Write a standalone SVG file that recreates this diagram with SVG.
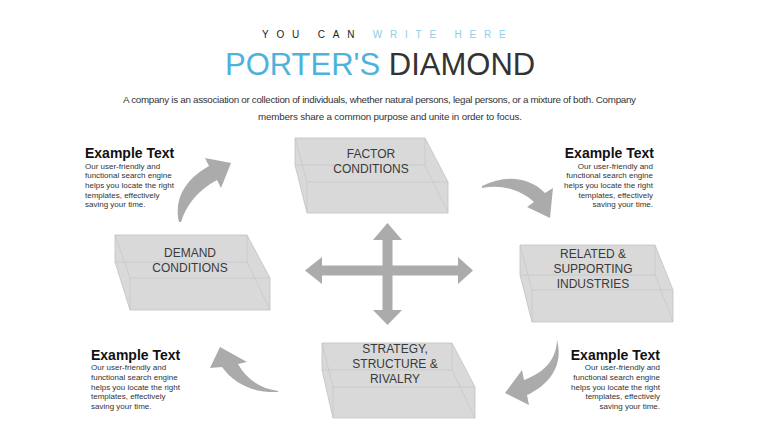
<svg xmlns="http://www.w3.org/2000/svg" width="760" height="428" viewBox="0 0 760 428">
<style>
.box{fill:#d9d9d9;stroke:#c2c2c2;stroke-width:0.8}
.edge{fill:none;stroke:#c6c6c6;stroke-width:0.7}
.lbl{font-family:"Liberation Sans",Arial,sans-serif;font-size:12px;fill:#3a3a3a;text-anchor:middle}
.arw{fill:#ababab}
.hd{font-family:"Liberation Sans",Arial,sans-serif;font-size:14px;font-weight:bold;fill:#111}
.bd{font-family:"Liberation Sans",Arial,sans-serif;font-size:8px;fill:#333}
.r{text-anchor:end}
</style>
<rect width="760" height="428" fill="#ffffff"/>
<g id="header">
<text x="262" y="38" font-family="Liberation Sans,Arial,sans-serif" font-size="10" letter-spacing="7.8" fill="#222"><tspan>YOU CAN </tspan><tspan fill="#8ccfe9">WRITE HERE</tspan></text>
<text x="225" y="75" font-family="Liberation Sans,Arial,sans-serif" font-size="31" fill="#333"><tspan fill="#4fb2dc">PORTER'S</tspan> DIAMOND</text>
<text x="123" y="103" font-family="Liberation Sans,Arial,sans-serif" font-size="9.8" fill="#333" textLength="513" lengthAdjust="spacing">A company is an association or collection of individuals, whether natural persons, legal persons, or a mixture of both. Company</text>
<text x="258" y="119.5" font-family="Liberation Sans,Arial,sans-serif" font-size="9.8" fill="#333" textLength="264" lengthAdjust="spacing">members share a common purpose and unite in order to focus.</text>
</g>
<g id="factor">
<path class="box" d="M295 138 H425 L448 182 V213 H307 L295 165 Z"/>
<path class="edge" d="M295 165 H425 V138 M425 165 L448 213 M307 182 H448 M307 182 V213 M295 138 L307 182"/>
<text class="lbl" x="371" y="158">FACTOR</text>
<text class="lbl" x="371" y="173">CONDITIONS</text>
</g>
<g id="demand">
<path class="box" d="M115 235 H247 L270 278 V310 H130 L115 262 Z"/>
<path class="edge" d="M115 262 H247 V235 M247 262 L270 310 M130 278 H270 M130 278 V310 M115 235 L130 278"/>
<text class="lbl" x="190" y="257">DEMAND</text>
<text class="lbl" x="190" y="272">CONDITIONS</text>
</g>
<g id="related">
<path class="box" d="M520 245 H655 L673 290 V322 H532 L520 275 Z"/>
<path class="edge" d="M520 275 H655 V245 M655 275 L673 322 M532 290 H673 M532 290 V322 M520 245 L532 290"/>
<text class="lbl" x="593" y="258">RELATED &amp;</text>
<text class="lbl" x="593" y="273">SUPPORTING</text>
<text class="lbl" x="593" y="288">INDUSTRIES</text>
</g>
<g id="strategy">
<path class="box" d="M322 343 H452 L475 387 V418 H333 L322 370 Z"/>
<path class="edge" d="M322 370 H452 V343 M452 370 L475 418 M333 387 H475 M333 387 V418 M322 343 L333 387"/>
<text class="lbl" x="395" y="353">STRATEGY,</text>
<text class="lbl" x="395" y="368">STRUCTURE &amp;</text>
<text class="lbl" x="395" y="383">RIVALRY</text>
</g>
<g id="connectors">
<path class="arw" d="M387.5 223 L402 240 H392.5 V265.5 H458 V257 L473 270.5 L458 284 V275.5 H392.5 V310 H402 L387.5 325 L373 310 H382.5 V275.5 H322 V284 L305 270.5 L322 257 V265.5 H382.5 V240 H373 Z"/>
<path class="arw" d="M179 222 C174 200 184 180 209 166 L205 158 L231 163 L221 188 L217 180 C198 190 186 205 181 222 Z"/>
<path class="arw" d="M482 186 C505 174 530 177 545 193 L553 188 L550 218 L527 207 L534 202 C520 189 500 184 482 188 Z"/>
<path class="arw" d="M278 392 C255 393 235 385 222 367 L210 368 L220 347 L247 362 L238 364 C246 378 258 388 278 391 Z"/>
<path class="arw" d="M557 340 C563 362 553 383 527 395 L529 405 L505 393 L522 370 L524 380 C545 372 556 360 557 340 Z"/>
</g>
<g id="text-tl">
<text class="hd" x="85" y="158">Example Text</text>
<text class="bd" x="85" y="168.5">Our user-friendly  and</text>
<text class="bd" x="85" y="178">functional search engine</text>
<text class="bd" x="85" y="188">helps you locate the right</text>
<text class="bd" x="85" y="197.5">templates, effectively</text>
<text class="bd" x="85" y="207">saving your time.</text>
</g>
<g id="text-tr">
<text class="hd r" x="654" y="158">Example Text</text>
<text class="bd r" x="653" y="168.5">Our user-friendly  and</text>
<text class="bd r" x="653" y="178">functional search engine</text>
<text class="bd r" x="653" y="188">helps you locate the right</text>
<text class="bd r" x="653" y="197.5">templates, effectively</text>
<text class="bd r" x="653" y="207">saving your time.</text>
</g>
<g id="text-bl">
<text class="hd" x="91" y="359.5">Example Text</text>
<text class="bd" x="91" y="369.5">Our user-friendly  and</text>
<text class="bd" x="91" y="379.5">functional search engine</text>
<text class="bd" x="91" y="389.5">helps you locate the right</text>
<text class="bd" x="91" y="399">templates, effectively</text>
<text class="bd" x="91" y="409">saving your time.</text>
</g>
<g id="text-br">
<text class="hd r" x="660" y="359.5">Example Text</text>
<text class="bd r" x="660" y="369.5">Our user-friendly  and</text>
<text class="bd r" x="660" y="379.5">functional search engine</text>
<text class="bd r" x="660" y="389.5">helps you locate the right</text>
<text class="bd r" x="660" y="399">templates, effectively</text>
<text class="bd r" x="660" y="409">saving your time.</text>
</g>
</svg>
